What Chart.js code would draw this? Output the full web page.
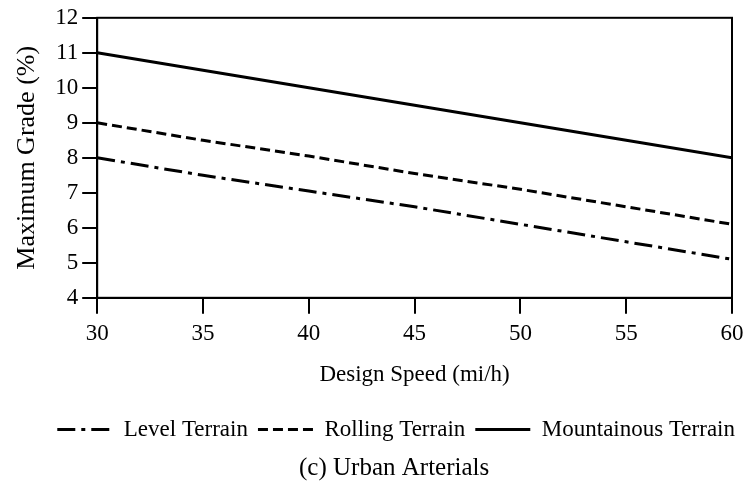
<!DOCTYPE html>
<html lang="en">
<head>
  <meta charset="UTF-8" />
  <title>Maximum Grade - Urban Arterials</title>
  <script src="https://cdn.jsdelivr.net/npm/chart.js@4.4.0/dist/chart.umd.min.js"></script>
  <style>
    body { margin: 0; background: #fff; }
    #wrap { width: 745px; height: 486px; }
  </style>
</head>
<body>
  <div id="wrap"><canvas id="gradeChart"></canvas></div>
  <script>
    const speeds = [30, 35, 40, 45, 50, 55, 60];
    const levelTerrain = [8, 7.5, 7.05, 6.6, 6.1, 5.6, 5.1];
    const rollingTerrain = [9, 8.5, 8.05, 7.55, 7.1, 6.6, 6.1];
    const mountainousTerrain = [11, 10.5, 10, 9.5, 9, 8.5, 8];

    const serif = 'Liberation Serif';

    // box round the plot area (top and right sides)
    const frame = {
      id: 'frame',
      afterDraw(chart) {
        const { ctx, chartArea: a } = chart;
        ctx.save();
        ctx.strokeStyle = '#000';
        ctx.lineWidth = 2;
        ctx.strokeRect(a.left, a.top, a.right - a.left, a.bottom - a.top);
        ctx.restore();
      }
    };

    const toXY = arr => arr.map((v, i) => ({ x: speeds[i], y: v }));

    new Chart(document.getElementById('gradeChart'), {
      type: 'line',
      data: {
        datasets: [
          { label: 'Level Terrain', data: toXY(levelTerrain), borderDash: [18, 6, 4, 6] },
          { label: 'Rolling Terrain', data: toXY(rollingTerrain), borderDash: [10, 5] },
          { label: 'Mountainous Terrain', data: toXY(mountainousTerrain), borderDash: [] }
        ].map(d => Object.assign(d, {
          borderColor: '#000', backgroundColor: '#000', borderWidth: 3,
          pointRadius: 0, pointStyle: 'line', tension: 0, fill: false
        }))
      },
      options: {
        responsive: true,
        maintainAspectRatio: false,
        animation: false,
        layout: { padding: { top: 17, right: 0, left: 12, bottom: 0 } },
        scales: {
          x: {
            type: 'linear', min: 30, max: 60,
            afterFit(scale) { scale.paddingRight = 13; },
            ticks: { stepSize: 5, color: '#000', font: { family: serif, size: 23 }, padding: 6 },
            grid: { drawOnChartArea: false, tickLength: 16, color: '#000', lineWidth: 2 },
            border: { color: '#000', width: 2 },
            title: { display: true, text: 'Design Speed (mi/h)', color: '#000',
                     font: { family: serif, size: 23 }, padding: { top: 8, bottom: 19 } }
          },
          y: {
            min: 4, max: 12,
            ticks: { stepSize: 1, color: '#000', font: { family: serif, size: 23 }, padding: 4 },
            grid: { drawOnChartArea: false, tickLength: 15, color: '#000', lineWidth: 2 },
            border: { color: '#000', width: 2 },
            title: { display: true, text: 'Maximum Grade (%)', color: '#000',
                     font: { family: serif, size: 26 }, padding: { top: 0, bottom: 8 } }
          }
        },
        plugins: {
          legend: {
            position: 'bottom',
            align: 'end',
            labels: {
              usePointStyle: true, pointStyle: 'line', pointStyleWidth: 55,
              boxHeight: 3, color: '#000', padding: 10,
              font: { family: serif, size: 23 },
              generateLabels(chart) {
                const items = Chart.defaults.plugins.legend.labels.generateLabels(chart);
                items.forEach(it => {
                  it.lineDash = chart.data.datasets[it.datasetIndex].borderDash;
                  it.lineWidth = 3;
                });
                return items;
              }
            }
          },
          title: {
            display: true, position: 'bottom',
            text: '\u00a0\u00a0\u00a0\u00a0\u00a0(c) Urban Arterials',
            color: '#000', font: { family: serif, size: 25, weight: 'normal' },
            padding: { top: 2, bottom: 3 }
          },
          tooltip: { enabled: false }
        }
      },
      plugins: [frame]
    });
  </script>
</body>
</html>
